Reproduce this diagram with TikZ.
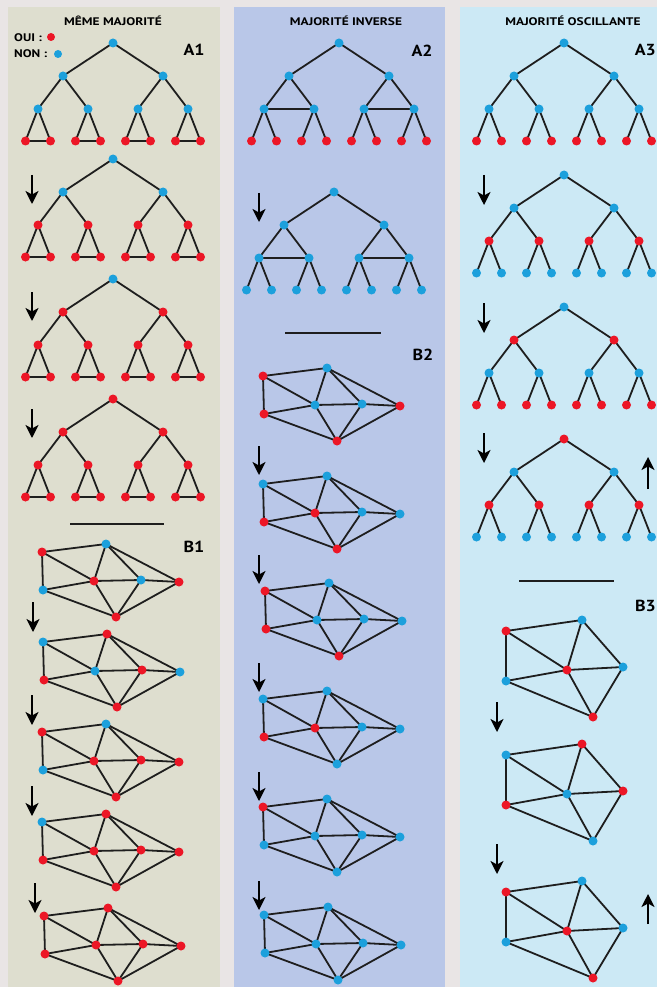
\documentclass[tikz,border=0pt]{standalone}
\usepackage{fontspec}
\usepackage{graphicx}
\newfontfamily\hfont{PT Sans}
\usetikzlibrary{arrows.meta}
\definecolor{cr}{RGB}{236,22,38}
\definecolor{cb}{RGB}{28,160,220}
\definecolor{bgall}{RGB}{233,229,229}
\definecolor{colA}{RGB}{222,222,207}
\definecolor{colB}{RGB}{185,199,232}
\definecolor{colC}{RGB}{204,233,245}
\definecolor{ink}{RGB}{30,30,30}
\pgfdeclarelayer{back}
\pgfdeclarelayer{edges}
\pgfsetlayers{back,edges,main}
\newcommand{\wide}[2]{\scalebox{#1}[1]{#2}}
\tikzset{
  dot/.style={circle,inner sep=0pt,minimum size=9pt,draw=none},
  link/.style={draw=ink,line width=1.8pt},
  flow/.style={draw=black,line width=1.8pt,-{Stealth[length=13pt,width=13pt,inset=3.5pt]}},
  sepline/.style={draw=ink,line width=1.8pt},
  head/.style={font=\hfont\bfseries\fontsize{11}{13}\selectfont,inner sep=0pt},
  tag/.style={font=\hfont\bfseries\fontsize{16}{19}\selectfont,inner sep=0pt},
}
% tree: prefix, x, y, type (0 plain, 1 leaf triangles, 2 horizontal links), root, L2, L3, leaf colours
\newcommand{\drawtree}[8]{%
  \begin{scope}[shift={(#2,#3)}]
    \node[dot,fill=#5] (#1r) at (0,0) {};
    \node[dot,fill=#6] (#1a) at (-50,33) {};
    \node[dot,fill=#6] (#1b) at (50,33) {};
    \foreach \n/\xx in {c/-75,d/-25,e/25,f/75}{
      \node[dot,fill=#7] (#1\n) at (\xx,66) {};
      \node[dot,fill=#8] (#1\n1) at (\xx-12.5,98) {};
      \node[dot,fill=#8] (#1\n2) at (\xx+12.5,98) {};
    }
  \end{scope}
  \begin{pgfonlayer}{edges}
    \draw[link] (#1r.center)--(#1a.center) (#1r.center)--(#1b.center)
      (#1a.center)--(#1c.center) (#1a.center)--(#1d.center)
      (#1b.center)--(#1e.center) (#1b.center)--(#1f.center);
    \foreach \n in {c,d,e,f}{
      \draw[link] (#1\n1.center)--(#1\n.center)--(#1\n2.center);
      \ifnum#4=1 \draw[link] (#1\n1.center)--(#1\n2.center);\fi
    }
    \ifnum#4=2 \draw[link] (#1c.center)--(#1d.center) (#1e.center)--(#1f.center);\fi
  \end{pgfonlayer}
}
% seven-node graph: prefix, x, y of top node, then colours n1..n7
\newcommand{\bgraph}[3]{\def\gp{#1}\def\gx{#2}\def\gy{#3}\bgraphB}
\newcommand{\bgraphB}[7]{%
  \begin{scope}[shift={(\gx,\gy)}]
    \node[dot,fill=#1] (\gp n1) at (-64,8) {};
    \node[dot,fill=#2] (\gp n2) at (0,0) {};
    \node[dot,fill=#3] (\gp n3) at (-63,46) {};
    \node[dot,fill=#4] (\gp n4) at (-12,37) {};
    \node[dot,fill=#5] (\gp n5) at (35,36) {};
    \node[dot,fill=#6] (\gp n6) at (73,38) {};
    \node[dot,fill=#7] (\gp n7) at (10,73) {};
  \end{scope}
  \begin{pgfonlayer}{edges}
    \foreach \u/\v in {1/2,1/3,1/4,3/4,3/7,2/4,2/5,2/6,4/5,5/6,4/7,5/7,7/6}
      \draw[link] (\gp n\u.center)--(\gp n\v.center);
  \end{pgfonlayer}
}
% six-node graph: prefix, x, y of top node, colours m1..m6
\newcommand{\cgraph}[9]{%
  \begin{scope}[shift={(#2,#3)}]
    \node[dot,fill=#4] (#1m1) at (-76,11) {};
    \node[dot,fill=#5] (#1m2) at (0,0) {};
    \node[dot,fill=#6] (#1m3) at (-76,61) {};
    \node[dot,fill=#7] (#1m4) at (-15,50) {};
    \node[dot,fill=#8] (#1m5) at (41,47) {};
    \node[dot,fill=#9] (#1m6) at (11,97) {};
  \end{scope}
  \begin{pgfonlayer}{edges}
    \foreach \u/\v in {1/2,1/3,1/4,3/4,3/6,2/4,2/5,4/5,4/6,5/6}
      \draw[link] (#1m\u.center)--(#1m\v.center);
  \end{pgfonlayer}
}
\newcommand{\flowarrow}[5]{%
  \coordinate (#1s) at (#2,#3);
  \coordinate (#1e) at (#4,#5);
  \draw[flow] (#1s)--(#1e);
}
\begin{document}
\begin{tikzpicture}[x=1pt,y=-1pt]
\useasboundingbox (0,0) rectangle (657,987);
\clip (0,0) rectangle (657,987);
\begin{pgfonlayer}{back}
  \fill[bgall] (0,0) rectangle (657,987);
  \fill[colA] (8,7) rectangle (220,987);
  \fill[colB] (234,7) rectangle (445,987);
  \fill[colC] (460,7) rectangle (657,987);
\end{pgfonlayer}

% headers
\node[head] (h1) at (113,21) {\wide{1.22}{MÊME MAJORITÉ}};
\node[head] (h2) at (346,21) {\wide{1.22}{MAJORITÉ INVERSE}};
\node[head] (h3) at (573,21) {\wide{1.22}{MAJORITÉ OSCILLANTE}};
\node[head,anchor=west] (oui) at (14,37.5) {\wide{1.2}{OUI :}};
\node[head,anchor=west] (non) at (14,53.5) {\wide{1.2}{NON :}};
\node[dot,fill=cr,minimum size=8pt] (ouidot) at (51,37) {};
\node[dot,fill=cb,minimum size=8pt] (nondot) at (58,54) {};

% labels
\node[tag] (lA1) at (194,50) {\wide{1.12}{A1}};
\node[tag] (lA2) at (422,51) {\wide{1.12}{A2}};
\node[tag,anchor=east] (lA3) at (656,50) {\wide{1.12}{A3}};
\node[tag] (lB1) at (194,547) {\wide{1.12}{B1}};
\node[tag] (lB2) at (423,355) {\wide{1.12}{B2}};
\node[tag,anchor=east] (lB3) at (656,606) {\wide{1.12}{B3}};

% column A1
\drawtree{t11}{113}{43}{1}{cb}{cb}{cb}{cr}
\drawtree{t12}{113}{159}{1}{cb}{cb}{cr}{cr}
\drawtree{t13}{113}{279}{1}{cb}{cr}{cr}{cr}
\drawtree{t14}{113}{399}{1}{cr}{cr}{cr}{cr}
\flowarrow{fa1}{32}{175}{32}{204}
\flowarrow{fa2}{32}{292}{32}{321}
\flowarrow{fa3}{32}{409}{32}{438}

% column A2
\drawtree{t21}{339}{43}{2}{cb}{cb}{cb}{cr}
\drawtree{t22}{334}{192}{2}{cb}{cb}{cb}{cb}
\flowarrow{fb1}{259}{193}{259}{222}

% column A3
\drawtree{t31}{564}{43}{0}{cb}{cb}{cb}{cr}
\drawtree{t32}{564}{175}{0}{cb}{cb}{cr}{cb}
\drawtree{t33}{564}{307}{0}{cb}{cr}{cb}{cr}
\drawtree{t34}{564}{439}{0}{cr}{cb}{cr}{cb}
\flowarrow{fc1}{484}{175}{484}{205}
\flowarrow{fc2}{484}{303}{484}{333}
\flowarrow{fc3}{484}{433}{484}{463}
\flowarrow{fc4}{648}{489}{648}{457}

% separators
\coordinate (s1a) at (70,524); \coordinate (s1b) at (164,524);
\coordinate (s2a) at (285,333); \coordinate (s2b) at (381,333);
\coordinate (s3a) at (519,581); \coordinate (s3b) at (614,581);
\draw[sepline] (s1a)--(s1b);
\draw[sepline] (s2a)--(s2b);
\draw[sepline] (s3a)--(s3b);

% column B1
\bgraph{g11}{106}{544}{cr}{cb}{cb}{cr}{cb}{cr}{cr}
\bgraph{g12}{107}{634}{cb}{cr}{cr}{cb}{cr}{cb}{cr}
\bgraph{g13}{106}{724}{cr}{cb}{cb}{cr}{cr}{cr}{cr}
\bgraph{g14}{106}{814}{cb}{cr}{cr}{cr}{cr}{cr}{cr}
\bgraph{g15}{108}{908}{cr}{cr}{cr}{cr}{cr}{cr}{cr}
\flowarrow{fd1}{33}{602}{33}{632}
\flowarrow{fd2}{32}{695}{32}{725}
\flowarrow{fd3}{32}{786}{32}{816}
\flowarrow{fd4}{35}{883}{35}{913}

% column B2
\bgraph{g21}{327}{368}{cr}{cb}{cr}{cb}{cb}{cr}{cr}
\bgraph{g22}{327}{476}{cb}{cb}{cr}{cr}{cb}{cb}{cr}
\bgraph{g23}{329}{583}{cr}{cb}{cr}{cb}{cb}{cb}{cr}
\bgraph{g24}{327}{691}{cb}{cb}{cr}{cr}{cb}{cb}{cb}
\bgraph{g25}{327}{799}{cr}{cb}{cb}{cb}{cb}{cb}{cb}
\bgraph{g26}{328}{907}{cb}{cb}{cb}{cb}{cb}{cb}{cb}
\flowarrow{fe1}{259}{446}{259}{475}
\flowarrow{fe2}{259}{555}{259}{584}
\flowarrow{fe3}{259}{663}{259}{692}
\flowarrow{fe4}{259}{772}{259}{801}
\flowarrow{fe5}{259}{881}{259}{910}

% column B3
\cgraph{g31}{582}{620}{cr}{cb}{cb}{cr}{cb}{cr}
\cgraph{g32}{582}{744}{cb}{cr}{cr}{cb}{cr}{cb}
\cgraph{g33}{582}{881}{cr}{cb}{cb}{cr}{cb}{cr}
\flowarrow{ff1}{497}{702}{497}{732}
\flowarrow{ff2}{497}{844}{497}{874}
\flowarrow{ff3}{648}{924}{648}{894}
\end{tikzpicture}
\end{document}
